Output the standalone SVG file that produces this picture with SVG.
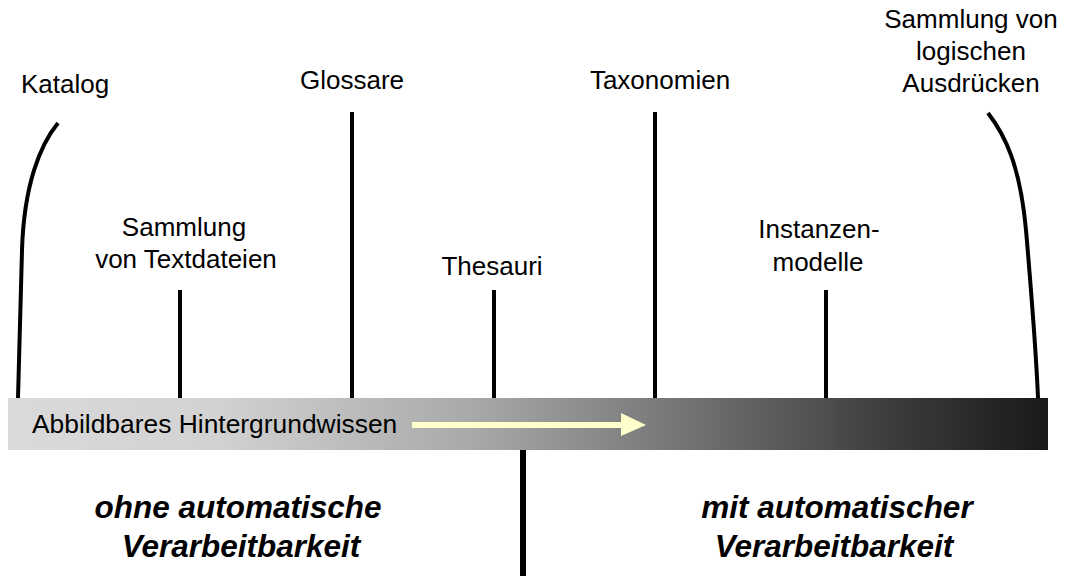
<svg xmlns="http://www.w3.org/2000/svg" width="1067" height="576" viewBox="0 0 1067 576">
<defs>
<linearGradient id="barGrad" x1="8" y1="0" x2="1048" y2="0" gradientUnits="userSpaceOnUse">
<stop offset="0" stop-color="#dadada"/>
<stop offset="0.2" stop-color="#d2d2d2"/>
<stop offset="0.45" stop-color="#a8a8a8"/>
<stop offset="0.62" stop-color="#7c7c7c"/>
<stop offset="0.85" stop-color="#3c3c3c"/>
<stop offset="1" stop-color="#191919"/>
</linearGradient>
</defs>
<style>
.lbl{font-family:"Liberation Sans",Arial,sans-serif;font-size:26px;fill:#000;text-anchor:middle}
.big{font-family:"Liberation Sans",Arial,sans-serif;font-size:31.5px;font-weight:bold;font-style:italic;fill:#000;text-anchor:middle}
.tick{stroke:#000;stroke-width:4;fill:none;stroke-linecap:butt}
</style>
<rect width="1067" height="576" fill="#fff"/>
<g id="bar">
<rect x="8" y="398" width="1040" height="52" fill="url(#barGrad)"/>
<text x="32" y="433" style="font-family:'Liberation Sans',Arial,sans-serif;font-size:26.4px;fill:#000">Abbildbares Hintergrundwissen</text>
</g>
<g id="connectors">
<path class="tick" d="M58,123 C40,145 24,185 22,250 C21,300 19,350 18,398"/>
<line class="tick" x1="180" y1="290" x2="180" y2="398"/>
<line class="tick" x1="352" y1="112" x2="352" y2="398"/>
<line class="tick" x1="494" y1="290" x2="494" y2="398"/>
<line class="tick" x1="655" y1="112" x2="655" y2="398"/>
<line class="tick" x1="826" y1="290" x2="826" y2="398"/>
<path class="tick" d="M988,113 C1005,135 1020,165 1026,230 C1032,300 1036,350 1038,398"/>
<line x1="523" y1="450" x2="523" y2="576" stroke="#000" stroke-width="6"/>
<line x1="412" y1="425" x2="624" y2="425" stroke="#ffffcc" stroke-width="6"/>
<polygon points="621,413 646,425 621,436" fill="#ffffcc"/>
</g>
<g id="katalog"><text class="lbl" x="65" y="93">Katalog</text></g>
<g id="textdateien"><text class="lbl" x="184" y="236">Sammlung</text><text class="lbl" x="186" y="268">von Textdateien</text></g>
<g id="glossare"><text class="lbl" x="352" y="89">Glossare</text></g>
<g id="thesauri"><text class="lbl" x="492" y="275">Thesauri</text></g>
<g id="taxonomien"><text class="lbl" x="660" y="89">Taxonomien</text></g>
<g id="instanzenmodelle"><text class="lbl" x="819" y="238">Instanzen-</text><text class="lbl" x="818" y="271">modelle</text></g>
<g id="ausdruecke"><text class="lbl" x="971" y="28">Sammlung von</text><text class="lbl" x="971" y="60">logischen</text><text class="lbl" x="971" y="92">Ausdrücken</text></g>
<g id="ohne"><text class="big" x="238" y="518">ohne automatische</text><text class="big" x="241" y="557">Verarbeitbarkeit</text></g>
<g id="mit"><text class="big" x="837" y="518">mit automatischer</text><text class="big" x="834" y="557">Verarbeitbarkeit</text></g>
</svg>
